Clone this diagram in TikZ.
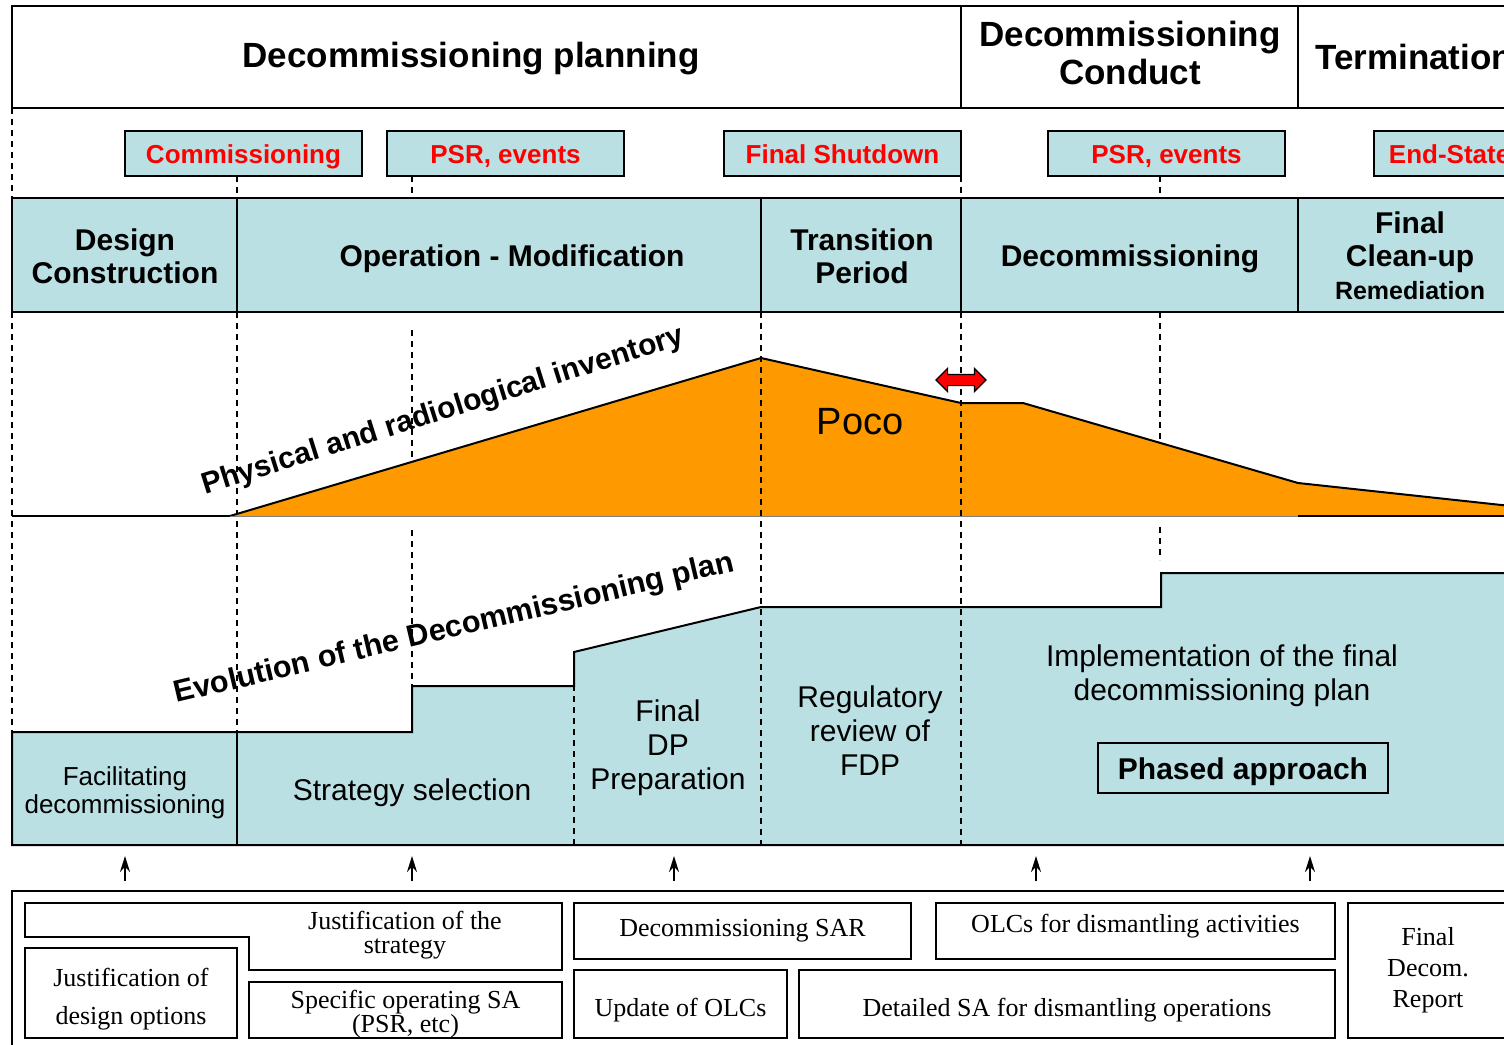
\documentclass[tikz,border=0pt]{standalone}
\usepackage{fontspec}
\setmainfont{Liberation Sans}
\newfontfamily\timesfam{Liberation Serif}
\usetikzlibrary{arrows.meta,shapes.arrows}
\definecolor{celeste}{HTML}{BAE0E3}
\definecolor{naranja}{HTML}{FF9900}
\tikzset{
  linea/.style={line width=1pt},
  guia/.style={dash pattern=on 3pt off 2.5pt, line width=0.7pt},
  evento/.style={draw, line width=0.9pt, fill=celeste, text=red,
    font=\fontsize{13}{15}\selectfont\bfseries, text height=13pt, text depth=2.7pt,
    minimum width=118.5pt, minimum height=22.5pt, inner sep=0pt},
  fase/.style={font=\fontsize{15}{16.5}\selectfont\bfseries, align=center},
  titulo/.style={font=\fontsize{17.5}{19}\selectfont\bfseries, align=center},
  plan/.style={font=\fontsize{15}{17}\selectfont, align=center},
  sabox/.style={draw, line width=0.9pt, font=\timesfam\fontsize{13}{15}\selectfont,
    align=center, inner sep=0pt},
  satexto/.style={font=\timesfam\fontsize{13}{12}\selectfont, align=center},
  flecha/.style={-{Stealth[length=8pt,width=5pt]}, line width=0.9pt}
}
\begin{document}
\begin{tikzpicture}[x=0.5pt,y=-0.5pt]
                \useasboundingbox (0,0) rectangle (1504,1044);
                \clip (0,0) rectangle (1504,1044);

                % Cabecera
                \draw[linea] (12,6) rectangle (1520,108);
                \draw[linea] (961,6) -- (961,108) (1298,6) -- (1298,108);
                \node[titulo] (tplan) at (471,59) {Decommissioning planning};
                \node[titulo] (tconduct) at (1130,53) {Decommissioning\\Conduct};
                \node[titulo, anchor=west, inner sep=0pt] (tterm) at (1315,57) {Termination};

                % Guias cortas
                \draw[guia] (12,108) -- (12,198) (237,176) -- (237,198) (412,176) -- (412,198)
                            (961,176) -- (961,198) (1160,176) -- (1160,198);

                % Hitos
                \node[evento] (ecomm) at (243.5,153.5) {Commissioning};
                \node[evento] (epsra) at (505.5,153.5) {PSR, events};
                \node[evento] (eshut) at (842.5,153.5) {Final Shutdown};
                \node[evento] (epsrb) at (1166.5,153.5) {PSR, events};
                \node[evento, minimum width=0pt, inner xsep=7.5pt, anchor=west] (eend) at (1373,153.5) {End-State};

                % Fases
                \draw[linea, fill=celeste] (12,198) rectangle (1520,312);
                \draw[linea] (237,198) -- (237,312) (761,198) -- (761,312)
                             (961,198) -- (961,312) (1298,198) -- (1298,312);
                \node[fase] (fdesign) at (125,256) {Design\\Construction};
                \node[fase] (foper) at (512,259) {Operation - Modification};
                \node[fase] (ftrans) at (862,256) {Transition\\Period};
                \node[fase] (fdecom) at (1130,259) {Decommissioning};
                \node[fase] (fclean) at (1410,256) {Final\\Clean-up\\{\fontsize{12.5}{15}\selectfont Remediation}};

                % Guias de fondo
                \draw[guia] (12,312) -- (12,732) (237,312) -- (237,732)
                            (412,330) -- (412,516) (412,530) -- (412,686)
                            (1160,312) -- (1160,516) (1160,527) -- (1160,560);

                % Inventario
                \fill[naranja] (230,516) -- (761,358) -- (961,403) -- (1023,403) -- (1298,483)
                               -- (1520,507) -- (1520,516) -- cycle;
                \draw[linea] (230,516) -- (761,358) -- (961,403) -- (1023,403) -- (1298,483) -- (1520,507);
                \draw[linea] (12,516) -- (230,516) (1298,516) -- (1520,516);
                \draw[gray, line width=0.5pt] (230,516) -- (1298,516);

                % Plan de desmantelamiento
                \draw[linea, fill=celeste] (12,732) -- (412,732) -- (412,686) -- (574,686) -- (574,652)
                             -- (761,607) -- (1161,607) -- (1161,573) -- (1520,573) -- (1520,845)
                             -- (12,845) -- cycle;
                \draw[line width=0.6pt] (237,732) -- (237,845);

                % Guias encima
                \draw[guia] (574,652) -- (574,845) (761,312) -- (761,845) (961,312) -- (961,845);

                % Textos inclinados
                \node[font=\fontsize{19}{22}\selectfont] (poco) at (860,422) {Poco};
                \node[font=\fontsize{15}{18}\selectfont\bfseries, anchor=base west, rotate=17.5,
                      inner sep=0pt] (inv) at (205,495) {Physical and radiological inventory};
                \node[font=\fontsize{15.3}{18}\selectfont\bfseries, anchor=base west, rotate=13.3,
                      inner sep=0pt] (evol) at (176,703) {Evolution of the Decommissioning plan};
                \node[double arrow, draw=black, fill=red, line width=0.6pt, minimum height=25pt,
                      inner sep=2.5pt, double arrow head extend=3pt] (cambio) at (961,380) {};

                % Etapas del plan
                \node[plan, font=\fontsize{13}{14}\selectfont] (pfacil) at (125,793) {Facilitating\\decommissioning};
                \node[plan, font=\fontsize{15}{17}\selectfont] (pstrat) at (412,793) {Strategy selection};
                \node[plan] (pfdp) at (668,748) {Final\\DP\\Preparation};
                \node[plan] (prev) at (870,731) {Regulatory\\review of\\FDP};
                \node[plan] (pimpl) at (1222,676) {Implementation of the final\\decommissioning plan};
                \node[draw, line width=0.8pt, font=\fontsize{15}{17}\selectfont\bfseries,
                      text height=15pt, text depth=3.2pt,
                      minimum width=145pt, minimum height=25pt] (pphased) at (1243,768) {Phased approach};

                % Flechas
                \foreach \x/\n in {125/a, 412/b, 674/c, 1036/d, 1310/e} {
                  \coordinate (f\n0) at (\x,881);
                  \coordinate (f\n1) at (\x,856);
                  \draw[flecha] (f\n0) -- (f\n1);
                }

                % Documentos de seguridad
                \draw[linea] (12,1060) -- (12,891) -- (1520,891);
                \draw[line width=0.9pt] (25,903) -- (562,903) -- (562,970) -- (249,970) -- (249,937)
                             -- (25,937) -- cycle;
                \node[satexto] (jstrat) at (405,935) {Justification of the\\strategy};
                \node[sabox, minimum width=106pt, minimum height=45pt] (jdesign) at (131,993) {};
                \node[satexto, font=\timesfam\fontsize{13}{19}\selectfont] (jdesignt) at (131,999) {Justification of\\design options};
                \node[sabox, minimum width=156.5pt, minimum height=28pt] (specsa) at (405.5,1010) {};
                \node[satexto] (specsat) at (405.5,1014) {Specific operating SA\\(PSR, etc)};
                \node[sabox, minimum width=168.5pt, minimum height=28pt] (dsar) at (742.5,931) {Decommissioning SAR};
                \node[sabox, minimum width=199.5pt, minimum height=28pt, text height=9pt,
                      text depth=8pt] (olcd) at (1135.5,931) {OLCs for dismantling activities};
                \node[sabox, minimum width=106.5pt, minimum height=34pt, text height=15pt,
                      text depth=3pt] (uolc) at (680.5,1004) {Update of OLCs};
                \node[sabox, minimum width=268pt, minimum height=34pt, text height=15pt,
                      text depth=3pt] (dsad) at (1067,1004) {Detailed SA for dismantling operations};
                \node[sabox, minimum width=80pt, minimum height=67.5pt,
                      font=\timesfam\fontsize{13}{15.5}\selectfont] (fdr) at (1428,970.5) {Final\\Decom.\\Report};
            \end{tikzpicture}
\end{document}
